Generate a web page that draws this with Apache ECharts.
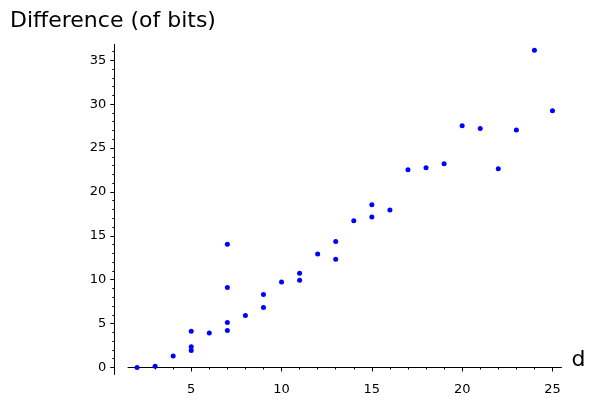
<!DOCTYPE html>
<html>
<head>
<meta charset="utf-8">
<script src="https://cdn.jsdelivr.net/npm/echarts@6/dist/echarts.min.js"></script>
<style>
html, body { margin: 0; padding: 0; background: #fff; }
#main { width: 596px; height: 401px; }
</style>
</head>
<body>
<div id="main"></div>
<script>
// d 值
var dList = [2, 3, 4, 5, 5, 5, 6, 7, 7, 7, 7, 8, 9, 9, 10, 11, 11, 12, 13, 13, 14, 15, 15, 16, 17, 18, 19, 20, 21, 22, 23, 24, 25];
// 位数差
var diffList = [0, 0.15, 1.32, 4.13, 2.35, 1.94, 3.94, 14.04, 9.11, 5.12, 4.21, 5.92, 8.31, 6.83, 9.74, 10.73, 9.94, 12.93, 14.34, 12.33, 16.73, 18.55, 17.14, 17.94, 22.54, 22.77, 23.22, 27.55, 27.24, 22.65, 27.05, 36.15, 29.25];
// 刻度
var xTicks = [5, 10, 15, 20, 25];
var yTicks = [0, 5, 10, 15, 20, 25, 30, 35];
var xMinor = [2, 3, 4, 5, 6, 7, 8, 9, 10, 11, 12, 13, 14, 15, 16, 17, 18, 19, 20, 21, 22, 23, 24, 25];
var yMinor = [0, 1, 2, 3, 4, 5, 6, 7, 8, 9, 10, 11, 12, 13, 14, 15, 16, 17, 18, 19, 20, 21, 22, 23, 24, 25, 26, 27, 28, 29, 30, 31, 32, 33, 34, 35, 36];

var points = [];
for (var i = 0; i < dList.length; i++) {
    points.push([dList[i], diffList[i]]);
}

var font = 'DejaVu Sans';
var myChart = echarts.init(document.getElementById('main'));
var option = {
    animation: false,
    title: {
        text: 'Difference (of bits)',
        left: 5,
        top: 5,
        textStyle: { fontFamily: font, fontSize: 22, fontWeight: 'normal', color: '#000' }
    },
    grid: { left: 128, right: 34.5, top: 44.5, bottom: 26.5 },
    xAxis: [
        {
            type: 'value',
            min: 1.5,
            max: 25.5,
            position: 'bottom',
            name: 'd',
            nameLocation: 'end',
            nameGap: 10,
            nameTextStyle: { fontFamily: font, fontSize: 22, color: '#000', verticalAlign: 'bottom', lineHeight: 22, padding: [0, 0, -4, 0] },
            axisLine: { onZero: true, lineStyle: { color: '#000', width: 1 } },
            axisTick: { customValues: xTicks, length: 4, lineStyle: { color: '#000' } },
            axisLabel: { customValues: xTicks, margin: 9, fontFamily: font, fontSize: 13, color: '#000' },
            splitLine: { show: false }
        },
        {
            // 次刻度
            type: 'value',
            min: 1.5,
            max: 25.5,
            position: 'bottom',
            axisLine: { show: false, onZero: true },
            axisTick: { customValues: xMinor, length: 2, lineStyle: { color: '#000' } },
            axisLabel: { show: false },
            splitLine: { show: false }
        }
    ],
    yAxis: [
        {
            type: 'value',
            min: -0.8,
            max: 36.8,
            position: 'left',
            offset: 13.7,
            axisLine: { show: true, onZero: false, lineStyle: { color: '#000', width: 1 } },
            axisTick: { customValues: yTicks, length: 4, lineStyle: { color: '#000' } },
            axisLabel: { customValues: yTicks, margin: 8, fontFamily: font, fontSize: 13, color: '#000' },
            splitLine: { show: false }
        },
        {
            type: 'value',
            min: -0.8,
            max: 36.8,
            position: 'left',
            offset: 13.7,
            axisLine: { show: false, onZero: false },
            axisTick: { customValues: yMinor, length: 2, lineStyle: { color: '#000' } },
            axisLabel: { show: false },
            splitLine: { show: false }
        }
    ],
    series: [
        {
            name: 'diff',
            type: 'scatter',
            xAxisIndex: 0,
            yAxisIndex: 0,
            symbolSize: 5,
            itemStyle: { color: '#0000ff', opacity: 1 },
            data: points
        }
    ]
};
myChart.setOption(option);
</script>
</body>
</html>
